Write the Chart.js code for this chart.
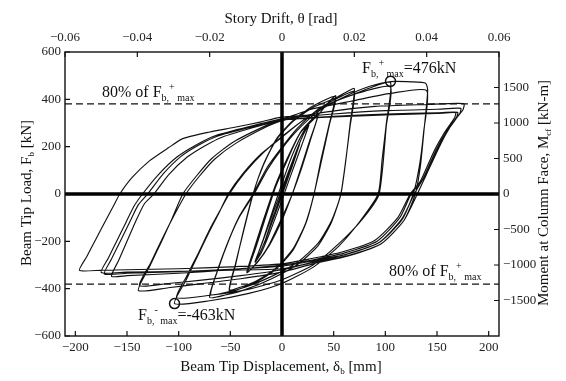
<!DOCTYPE html>
<html><head><meta charset="utf-8">
<style>html,body{margin:0;padding:0;background:#fff}canvas{display:block}</style>
</head><body>
<canvas id="c" width="566" height="381"></canvas>
<script src="https://cdn.jsdelivr.net/npm/chart.js"></script>
<script>
// ---- tick labels ----
const xTicks = [-200,-150,-100,-50,0,50,100,150,200];
const driftTicks = [-0.06,-0.04,-0.02,0,0.02,0.04,0.06];
const loadTicks = [-600,-400,-200,0,200,400,600];
const momentTicks = [-1500,-1000,-500,0,500,1000,1500];

// ---- reference values ----
const peakPoints = [[105,476],[-104,-463]];
const level80 = [380.8,-380.8];

// ---- hysteresis path (beam tip displacement mm, load kN), in loading order ----
const elasticCycles = [
 [0,0],[7,85],[13,158],[6,78],[0,4],[-7,-82],[-13,-154],[-6,-74],[0,-3],[13,160],[0,6],[-13,-155],[0,-2],[13,158],[0,5],[-13,-152],
 [0,0],[9,112],[17,212],[9,105],[0,8],[-9,-108],[-17,-208],[-9,-100],[0,-6],[17,214],[0,10],[-17,-206],[0,-4],[17,210],
 [8,95],[0,-6],[-13,-160],[-21,-245],[-26,-285],[-19,-205],[-10,-95],[0,22],[12,160],[20,245],[26,292],[19,205],[9,85],[0,-25],[-12,-165],[-20,-248],[-26,-288]
];
const cycles001 = [
 [-18,-190],[-9,-70],[0,45],[10,165],[22,272],[35,340],
 [28,235],[19,110],[10,0],[0,-110],[-12,-215],[-24,-290],[-34,-332],
 [-27,-232],[-18,-110],[-7,30],[4,140],[18,262],[35,338],
 [27,228],[10,0],[-1,-110],[-12,-212],[-23,-285],[-34,-330],
 [-26,-225],[-17,-105],[-6,32],[5,142],[18,262],[35,336],
 [27,226],[10,0],[-12,-210],[-23,-283],[-33,-328],
 [-25,-222],[-6,33],[5,143],[18,260],[35,334]
];
const cycles0015 = [
 [44,382],[52,415],
 [46,300],[38,150],[31,0],[23,-125],[11,-235],[-5,-315],[-24,-370],[-39,-398],[-51,-412],
 [-45,-300],[-37,-150],[-28,0],[-18,125],[-5,235],[11,312],[30,372],[52,412],
 [46,295],[31,0],[23,-122],[11,-230],[-5,-310],[-24,-365],[-39,-392],[-51,-405],
 [-45,-295],[-28,0],[-18,122],[-5,232],[11,308],[30,366],[52,406]
];
const cycles002 = [
 [61,428],[70,445],
 [66,300],[62,150],[57,0],[48,-118],[35,-218],[15,-298],[-10,-358],[-35,-403],[-55,-427],[-70,-437],
 [-63,-330],[-52,-200],[-42,-100],[-28,0],[-15,108],[0,198],[15,278],[35,358],[55,408],[70,432],
 [66,290],[57,0],[48,-112],[35,-208],[15,-288],[-10,-348],[-35,-393],[-55,-416],[-69,-425],
 [-62,-320],[-51,-190],[-41,-95],[-27,0],[-14,104],[0,192],[15,270],[35,348],[55,398],[70,422]
];
const cycles003 = [
 [85,448],[105,471],
 [101,300],[97,150],[93,0],[76,-112],[55,-220],[30,-310],[0,-378],[-32,-420],[-70,-451],[-104,-463],
 [-93,-365],[-82,-265],[-71,-165],[-61,-80],[-52,0],[-38,85],[-20,170],[0,240],[20,310],[45,380],[75,428],[105,452],
 [101,290],[94,0],[78,-105],[55,-210],[30,-300],[0,-362],[-32,-402],[-70,-428],[-102,-438]
];
const cycles004 = [
 [-92,-345],[-81,-250],[-70,-150],[-60,-70],[-51,0],[-36,90],[-18,175],[5,260],[30,340],[60,410],[85,455],[105,475],[125,474],[139,468],[141,437],
 [137,250],[134,120],[129,0],[118,-112],[96,-210],[64,-262],[30,-295],[0,-330],[-40,-358],[-80,-380],[-110,-396],[-139,-408],
 [-128,-305],[-117,-205],[-106,-100],[-96,0],[-83,75],[-68,150],[-47,220],[-15,290],[0,315],[30,360],[70,395],[105,425],[140,437],
 [137,260],[133,120],[127,0],[116,-110],[94,-205],[62,-255],[30,-288],[0,-320],[-40,-345],[-80,-365],[-110,-378],[-138,-387],
 [-127,-290],[-116,-190],[-105,-95],[-93,0],[-80,75],[-65,148],[-44,216],[-14,286],[0,310]
];
const cycles005 = [
 [40,345],[90,370],[140,378],[176,382],[175,355],
 [165,300],[154,215],[140,85],[131,0],[118,-112],[96,-210],[64,-260],[32,-288],[0,-316],[-50,-322],[-100,-327],[-150,-330],[-175,-332],
 [-168,-270],[-160,-200],[-151,-120],[-143,-50],[-135,0],[-120,80],[-102,155],[-84,205],[-64,247],[-28,289],[0,318],[50,338],[100,352],[150,358],[173,362],[172,340],
 [163,285],[152,200],[138,75],[128,0],[116,-105],[94,-205],[62,-255],[30,-283],[0,-305],[-50,-318],[-100,-328],[-150,-335],[-172,-338],
 [-165,-275],[-156,-195],[-147,-115],[-139,-45],[-130,0],[-115,85],[-98,158],[-80,208],[-62,245],[-26,287],[0,315],[50,328],[100,338],[150,343],[170,345],[169,325],
 [160,270],[149,185],[136,60],[125,0],[114,-100],[92,-200],[60,-250],[28,-280],[0,-300],[-50,-320],[-100,-335],[-150,-345],[-165,-348],
 [-158,-280],[-150,-200],[-141,-110],[-133,-40],[-124,0],[-110,80],[-92,155],[-74,205],[-58,240],[-24,285],[0,312],[50,326],[100,334],[150,340],[168,344],[167,322]
];
const finalCycle = [
 [158,265],[147,180],[134,55],[124,0],[112,-100],[90,-195],[58,-245],[26,-275],[0,-295],[-50,-308],[-100,-316],[-150,-320],[-175,-322],[-196,-323],
 [-189,-265],[-180,-190],[-171,-115],[-163,-50],[-157,0],[-145,70],[-128,141],[-110,195],[-96,234],[-70,262],[-47,281],[-20,305],[-3,323],[30,335]
];

const hysteresis = [].concat(elasticCycles, cycles001, cycles0015, cycles002, cycles003, cycles004, cycles005, finalCycle)
  .map(([x,y]) => ({x, y}));

const SERIF = '"Liberation Serif", "DejaVu Serif", serif';
const minus = v => (v < 0 ? '\u2212' : '') + Math.abs(v);

function richWidth(ctx, parts, size) {
  let w = 0;
  for (const p of parts) {
    const s = p.k ? Math.round(size * 0.6) : size;
    ctx.font = `${s}px ${SERIF}`;
    w += ctx.measureText(p.t).width;
  }
  return w;
}
function rich(ctx, x, y, parts, size) {
  let cx = x;
  ctx.textBaseline = 'alphabetic';
  ctx.textAlign = 'left';
  for (const p of parts) {
    const s = p.k ? Math.round(size * 0.6) : size;
    ctx.font = `${s}px ${SERIF}`;
    const dy = p.k === 'sub' ? size * 0.22 : p.k === 'sup' ? -size * 0.45 : 0;
    ctx.fillText(p.t, cx, y + dy);
    cx += ctx.measureText(p.t).width;
  }
}

const decor = {
  id: 'decor',
  afterDraw(chart) {
    const ctx = chart.ctx;
    const {left, right, top, bottom} = chart.chartArea;
    const sx = chart.scales.x, sx2 = chart.scales.x2, sy = chart.scales.y, sy1 = chart.scales.y1;
    ctx.save();
    ctx.strokeStyle = '#111';
    ctx.lineWidth = 1.4;
    ctx.strokeRect(left, top, right - left, bottom - top);
    ctx.lineWidth = 1.2;
    ctx.beginPath();
    const T = 5;
    xTicks.forEach(v => { const p = sx.getPixelForValue(v); ctx.moveTo(p, bottom); ctx.lineTo(p, bottom - T); });
    driftTicks.forEach(v => { const p = sx2.getPixelForValue(v); ctx.moveTo(p, top); ctx.lineTo(p, top + T); });
    loadTicks.forEach(v => { const p = sy.getPixelForValue(v); ctx.moveTo(left, p); ctx.lineTo(left + T, p); });
    momentTicks.forEach(v => { const p = sy1.getPixelForValue(v); ctx.moveTo(right, p); ctx.lineTo(right - T, p); });
    ctx.stroke();

    ctx.fillStyle = '#111';
    // axis titles
    const TS = 15;
    let parts = [{t:'Beam Tip Displacement, \u03B4'},{t:'b',k:'sub'},{t:' [mm]'}];
    rich(ctx, 281 - richWidth(ctx, parts, TS)/2, 371, parts, TS);
    parts = [{t:'Story Drift, \u03B8 [rad]'}];
    rich(ctx, 281 - richWidth(ctx, parts, TS)/2, 23, parts, TS);
    parts = [{t:'Beam Tip Load, F'},{t:'b',k:'sub'},{t:' [kN]'}];
    ctx.save(); ctx.translate(31, 193); ctx.rotate(-Math.PI/2);
    rich(ctx, -richWidth(ctx, parts, TS)/2, 0, parts, TS); ctx.restore();
    parts = [{t:'Moment at Column Face, M'},{t:'cf',k:'sub'},{t:' [kN-m]'}];
    ctx.save(); ctx.translate(548, 193); ctx.rotate(-Math.PI/2);
    rich(ctx, -richWidth(ctx, parts, TS)/2, 0, parts, TS); ctx.restore();

    // annotations
    const AS = 16;
    const f80 = [{t:'80% of F'},{t:'b,',k:'sub'},{t:'+',k:'sup'},{t:' max',k:'sub'}];
    rich(ctx, 102, 97, f80, AS);
    rich(ctx, 389, 276, f80, AS);
    rich(ctx, 362, 73, [{t:'F'},{t:'b,',k:'sub'},{t:'+',k:'sup'},{t:' max',k:'sub'},{t:'=476kN'}], AS);
    rich(ctx, 138, 320, [{t:'F'},{t:'b,',k:'sub'},{t:'-',k:'sup'},{t:' max',k:'sub'},{t:'=-463kN'}], AS);
    ctx.restore();
  }
};

const tickFont = {family: SERIF, size: 13};
const tickColor = '#222';
function axis(extra) {
  return Object.assign({
    type: 'linear',
    grid: {display: false, drawTicks: false},
    border: {display: false},
  }, extra);
}

new Chart(document.getElementById('c'), {
  type: 'scatter',
  data: {
    datasets: [
      {data: peakPoints.map(([x,y]) => ({x,y})), showLine: false, pointRadius: 5, pointBorderWidth: 1.5,
       pointBorderColor: '#111', pointBackgroundColor: 'rgba(0,0,0,0)', pointStyle: 'circle'},
      {data: [{x:-210,y:level80[0]},{x:210,y:level80[0]}], showLine: true, pointRadius: 0, borderColor: '#111', borderWidth: 1.2, borderDash: [7,4]},
      {data: [{x:-210,y:level80[1]},{x:210,y:level80[1]}], showLine: true, pointRadius: 0, borderColor: '#111', borderWidth: 1.2, borderDash: [7,4]},
      {data: [{x:-210,y:0},{x:210,y:0}], showLine: true, pointRadius: 0, borderColor: '#000', borderWidth: 3.5},
      {data: [{x:0,y:-600},{x:0,y:600}], showLine: true, pointRadius: 0, borderColor: '#000', borderWidth: 3.5},
      {data: hysteresis, showLine: true, pointRadius: 0, borderColor: '#111', borderWidth: 1.15, tension: 0.2, fill: false}
    ]
  },
  options: {
    responsive: false,
    animation: false,
    devicePixelRatio: 1,
    layout: {padding: 0},
    plugins: {legend: {display: false}, tooltip: {enabled: false}},
    scales: {
      x: axis({position: 'bottom', min: -210, max: 210,
        afterBuildTicks: s => { s.ticks = xTicks.map(v => ({value: v})); },
        afterFit: s => { s.height = 45; },
        ticks: {font: tickFont, color: tickColor, padding: 4, autoSkip: false, maxRotation: 0, callback: v => minus(v)}}),
      x2: axis({position: 'top', min: -0.06, max: 0.06,
        afterBuildTicks: s => { s.ticks = driftTicks.map(v => ({value: v})); },
        afterFit: s => { s.height = 52; },
        ticks: {font: tickFont, color: tickColor, padding: 7, autoSkip: false, maxRotation: 0,
          callback: v => v === 0 ? '0' : (v < 0 ? '\u2212' : '') + Math.abs(v).toFixed(2)}}),
      y: axis({position: 'left', min: -600, max: 600,
        afterBuildTicks: s => { s.ticks = loadTicks.map(v => ({value: v})); },
        afterFit: s => { s.width = 65; },
        ticks: {font: tickFont, color: tickColor, padding: 4, autoSkip: false, callback: v => minus(v)}}),
      y1: axis({position: 'right', min: -2000, max: 2000,
        afterBuildTicks: s => { s.ticks = momentTicks.map(v => ({value: v})); },
        afterFit: s => { s.width = 67; },
        ticks: {font: tickFont, color: tickColor, padding: 4, autoSkip: false, callback: v => minus(v)}})
    }
  },
  plugins: [decor]
});
</script>
</body></html>
